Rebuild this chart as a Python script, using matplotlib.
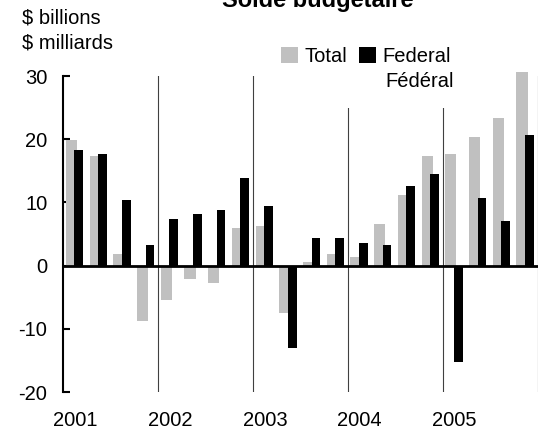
import matplotlib
matplotlib.use("Agg")
import matplotlib.pyplot as plt
from matplotlib.patches import Rectangle
import numpy as np

plt.rcParams['font.family'] = ['Liberation Sans', 'DejaVu Sans']
plt.rcParams['axes.unicode_minus'] = False

years = ['2001', '2002', '2003', '2004', '2005']
total = [19.8, 17.3, 1.9, -8.7, -5.5, -2.1, -2.8, 6.0, 6.3, -7.5,
         0.6, 1.9, 1.3, 6.6, 11.1, 17.3, 17.6, 20.4, 23.3, 30.6]
federal = [18.3, 17.6, 10.4, 3.2, 7.3, 8.2, 8.8, 13.9, 9.4, -13.1,
           4.3, 4.3, 3.5, 3.2, 12.6, 14.5, -15.3, 10.7, 7.0, 20.7]

fig = plt.figure(figsize=(5.39, 4.29), dpi=100)
W, H = 539, 429
ax = fig.add_axes([63.3 / W, 1 - 392 / H, (537.5 - 63.3) / W, (392 - 76) / H])

q = np.arange(len(total))
ax.bar(q + 0.345, total, width=0.47, color='#c0c0c0', label='Total', zorder=2)
ax.bar(q + 0.655, federal, width=0.37, color='black', label='Federal', zorder=3)

for x in range(4, 21, 4):
    ax.axvline(x, color='#404040', lw=0.8, zorder=1)
ax.axhline(0, color='black', lw=2, zorder=4)

fs = 14.5
ax.set_xlim(0, 20)
ax.set_ylim(-20, 30)
ax.set_yticks([-20, -10, 0, 10, 20, 30])
ax.set_xticks(np.arange(0, 20, 4) + 0.5)
ax.set_xticklabels(years)
ax.tick_params(axis='y', direction='in', length=5, width=1.5, labelsize=fs, pad=11.5)
ax.tick_params(axis='x', length=0, labelsize=fs, pad=14)
for s in ['top', 'right', 'bottom']:
    ax.spines[s].set_visible(False)
ax.spines['left'].set_linewidth(1.5)
for p in ax.patches:
    p.set_clip_on(False)

fig.text(21.7 / W, 1 - 18.3 / H, '$ billions', fontsize=fs, va='center')
fig.text(21.7 / W, 1 - 43.3 / H, '$ milliards', fontsize=fs, va='center')
fig.text(318 / W, 1 - 7 / H, 'Solde budgétaire', fontsize=17, fontweight='bold',
         ha='center', va='baseline')

# white block behind the legend (hides the year lines, as in the source)
ax.add_patch(Rectangle((278 / W, 1 - 108 / H), (460 - 278) / W, (108 - 45) / H,
                       transform=fig.transFigure, facecolor='white',
                       edgecolor='none', zorder=4.8, clip_on=False))
leg = ax.legend(loc='center left', bbox_to_anchor=(280.5 / W, 1 - 56.7 / H),
                bbox_transform=fig.transFigure, ncol=2, fontsize=fs,
                handlelength=0.85, handleheight=0.85, handletextpad=0.33,
                columnspacing=0.6, borderpad=0, borderaxespad=0, frameon=False)
leg.set_zorder(5)
ax.text(385 / W, 1 - 81.7 / H, 'Fédéral', fontsize=fs, va='center', zorder=5,
        transform=fig.transFigure)

fig.savefig('out.png', dpi=100)
